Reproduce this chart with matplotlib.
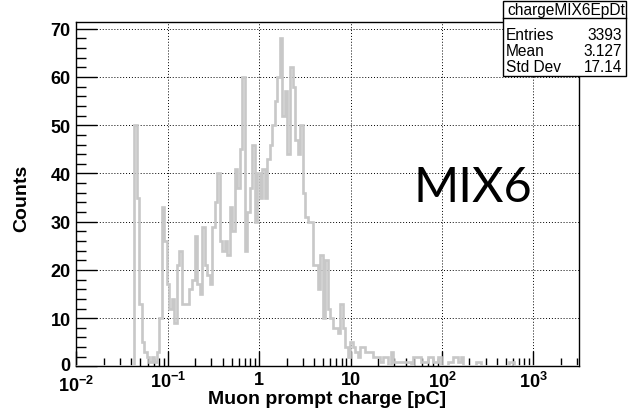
import numpy as np
import matplotlib
matplotlib.use("Agg")
import matplotlib.pyplot as plt
import matplotlib.transforms as mtransforms
from matplotlib.ticker import FixedLocator, FixedFormatter, MultipleLocator, LogLocator, NullFormatter

plt.rcParams['font.family'] = ['Liberation Sans', 'DejaVu Sans']
plt.rcParams['mathtext.fontset'] = 'custom'
plt.rcParams['mathtext.rm'] = 'Liberation Sans:bold'
plt.rcParams['mathtext.it'] = 'Liberation Sans:bold'
plt.rcParams['mathtext.bf'] = 'Liberation Sans:bold'

# ---- data ----
n_bins = 200
log_min, log_max = -2.0, 3.5
first_bin = 23
counts_nonzero = [
    50, 35, 13, 5, 3, 2, 1, 2, 1, 3,          # 23-32
    10, 33, 26, 17, 12, 14, 9, 21, 24, 13,    # 33-42
    13, 13, 16, 18, 27, 17, 15, 29, 21, 19,   # 43-52
    17, 29, 34, 40, 26, 24, 26, 23, 33, 28,   # 53-62
    41, 37, 45, 60, 24, 32, 37, 46, 30, 40,   # 63-72
    35, 41, 35, 43, 46, 50, 55, 60, 68, 52,   # 73-82
    57, 44, 62, 58, 47, 44, 50, 36, 31, 30,   # 83-92
    30, 21, 21, 16, 23, 10, 22, 12, 10, 8,    # 93-102
    8, 7, 13, 8, 4, 2, 5, 4, 3, 2,            # 103-112
    4, 4, 3, 3, 3, 2, 2, 2, 1, 2,             # 113-122
    2, 0, 3, 1, 1, 1, 1, 1, 1, 1,             # 123-132
    0, 2, 2, 2, 1, 1, 1, 2, 2, 1,             # 133-142
    1, 2, 0, 0, 0, 1, 1, 2, 2, 1,             # 143-152
    2, 0, 0, 0, 0, 0, 1, 1, 0, 0,             # 153-162
    0, 0, 0, 0, 0, 0, 0, 0, 0, 1,             # 163-172
    1,                                        # 173
]
hist_name = "chargeMIX6EpDt"
stat_labels = ["Entries", "Mean", "Std Dev"]
stat_values = ["3393", "3.127", "17.14"]
x_tick_values = [1e-2, 1e-1, 1, 10, 1e2, 1e3]
x_tick_labels = [r"$10^{-2}$", r"$10^{-1}$", "1", "10", r"$10^{2}$", r"$10^{3}$"]
y_ticks = [0, 10, 20, 30, 40, 50, 60, 70]
x_title = "Muon prompt charge [pC]"
y_title = "Counts"
annotation = "MIX6"

counts = np.zeros(n_bins)
counts[first_bin:first_bin + len(counts_nonzero)] = counts_nonzero
edges = np.logspace(log_min, log_max, n_bins + 1)

W, H = 628, 410
fig = plt.figure(figsize=(W / 100, H / 100), dpi=100)
ax = fig.add_axes([76.4 / W, 1 - 367.4 / H, (579 - 76.4) / W, (367.4 - 23) / H])

ax.stairs(counts, edges, color="#c8c8c8", linewidth=1.9, zorder=3)

ax.set_xscale("log")
ax.set_xlim(10 ** log_min, 10 ** log_max)
ax.set_ylim(0, counts.max() * 1.05)

ax.xaxis.set_major_locator(FixedLocator(x_tick_values))
ax.xaxis.set_major_formatter(FixedFormatter(x_tick_labels))
ax.xaxis.set_minor_locator(LogLocator(base=10, subs=np.arange(2, 10), numticks=20))
ax.xaxis.set_minor_formatter(NullFormatter())
ax.yaxis.set_major_locator(FixedLocator(y_ticks))
ax.yaxis.set_minor_locator(MultipleLocator(2))

ax.tick_params(axis="both", which="both", direction="in", colors="black", width=1)
ax.tick_params(axis="x", which="major", length=11, pad=3)
ax.tick_params(axis="x", which="minor", length=5.5)
ax.tick_params(axis="y", which="major", length=15, pad=4)
ax.tick_params(axis="y", which="minor", length=7.5)
for lab in ax.get_xticklabels() + ax.get_yticklabels():
    lab.set_fontsize(13)
    lab.set_fontweight("bold")

# keep the "0" and "10^-2" labels apart, as in the reference
zero_lab = ax.yaxis.get_major_ticks()[0].label1
zero_lab.set_transform(zero_lab.get_transform() +
                       mtransforms.ScaledTranslation(0, 3 / 100, fig.dpi_scale_trans))
first_x_lab = ax.xaxis.get_major_ticks()[0].label1
first_x_lab.set_transform(first_x_lab.get_transform() +
                          mtransforms.ScaledTranslation(0, -4 / 100, fig.dpi_scale_trans))

ax.grid(True, which="major", color="black", linestyle=(0, (1, 2)), linewidth=0.7)
for s in ax.spines.values():
    s.set_linewidth(1.0)
    s.set_color("black")

fig.text(327 / W, 1 - 400 / H, x_title, ha="center", va="center",
         fontsize=14, fontweight="bold")
fig.text(22 / W, 1 - 198 / H, y_title, ha="center", va="center",
         fontsize=14, fontweight="bold", rotation=90)

fig.text(413 / W, 1 - 202 / H, annotation, ha="left", va="baseline",
         fontsize=35, family=["Lato", "DejaVu Sans"])

# stats box
bx0, bx1, by0, by1 = 503 / W, 626 / W, 1 - 77 / H, 1 - 2 / H
box = plt.Rectangle((bx0, by0), bx1 - bx0, by1 - by0, transform=fig.transFigure,
                    facecolor="white", edgecolor="black", linewidth=1.0, zorder=10)
fig.add_artist(box)
hy = 1 - 19 / H
fig.add_artist(plt.Line2D([bx0, bx1], [hy, hy], transform=fig.transFigure,
                          color="black", linewidth=1.0, zorder=11))
fig.text((bx0 + bx1) / 2 + 2 / W, 1 - 10.5 / H, hist_name, ha="center", va="center",
         fontsize=11.2, zorder=12)
row_y = [35, 51, 67]
for lab, val, ry in zip(stat_labels, stat_values, row_y):
    fig.text(506 / W, 1 - ry / H, lab, ha="left", va="center", fontsize=11.2, zorder=12)
    fig.text(622 / W, 1 - ry / H, val, ha="right", va="center", fontsize=11.2, zorder=12)

fig.savefig("out.png", dpi=100)
